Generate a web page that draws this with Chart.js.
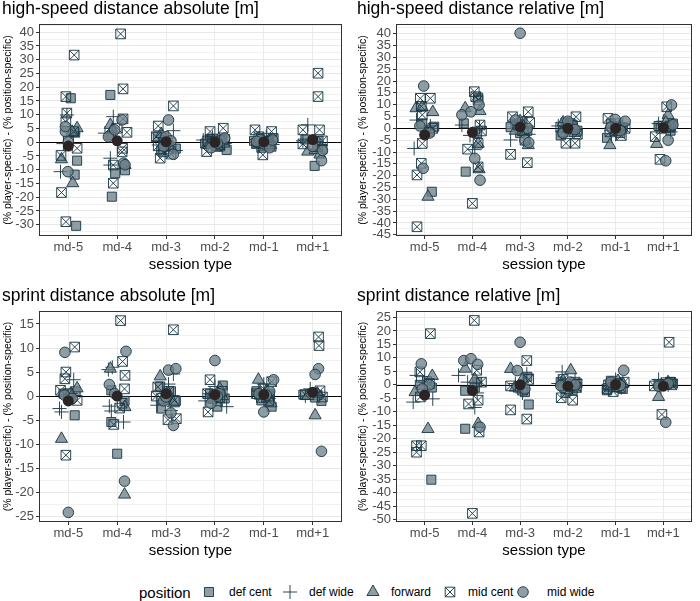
<!DOCTYPE html>
<html><head><meta charset="utf-8">
<script src="https://cdn.jsdelivr.net/npm/chart.js@4.4.1/dist/chart.umd.min.js"></script>
<style>
html,body{margin:0;padding:0;background:#fff;width:700px;height:601px;overflow:hidden;font-family:"Liberation Sans",Arial,Helvetica,sans-serif;}
canvas{position:absolute;}
.lg{position:absolute;white-space:nowrap;color:#000;line-height:1;}
</style></head><body>
<canvas id="c1" width="350" height="290" style="left:0;top:0"></canvas>
<canvas id="c2" width="350" height="290" style="left:350px;top:0"></canvas>
<canvas id="c3" width="350" height="289" style="left:0;top:287px"></canvas>
<canvas id="c4" width="350" height="289" style="left:350px;top:287px"></canvas>
<div id="legend"></div>
<script>
// ---------- DATA ----------
const sessions = ['md-5','md-4','md-3','md-2','md-1','md+1'];
const positions = ['def cent','def wide','forward','mid cent','mid wide'];
// each point: [session number (1-6), horizontal jitter, value]

// high-speed distance absolute
const hsAbsDefCent = [[1,0.05,16.0],[1,0.16,-30.4],[1,0.13,-11.8],[1,0.18,-6.7],[1,0.14,3.5],
  [2,-0.14,17.2],[2,-0.04,-11.3],[2,0.16,-10.2],[2,-0.11,-19.8],[2,-0.12,2.5],
  [3,-0.17,2.0],[3,0.2,-2.3],[3,0.05,-1.0],[3,-0.1,-3.0],[3,-0.05,0.8],
  [4,0.24,-2.8],[4,-0.1,1.2],[4,0.1,-1.5],[4,0.15,0.8],[4,-0.2,-0.5],[4,0.0,0.3],
  [5,-0.2,0.5],[5,0.1,-1.2],[5,0.2,1.5],[5,-0.05,-2.0],[5,-0.12,-0.3],[5,0.05,0.2],
  [6,0.04,-8.6],[6,0.2,-2.5],[6,-0.15,1.0],[6,0.12,0.5]];
const hsAbsDefWide = [[1,-0.03,9.9],[1,-0.16,-10.7],[1,0.1,3.3],[1,-0.1,-0.5],
  [2,-0.08,9.3],[2,-0.25,3.3],[2,-0.14,-5.8],[2,-0.14,-8.3],
  [3,0.15,4.2],[3,-0.15,-1.0],[3,0.05,1.5],[3,0.2,-3.0],
  [4,-0.24,0.8],[4,0.1,-1.0],[4,-0.05,1.8],[4,0.2,-0.5],[4,0.15,0.2],
  [5,-0.15,1.0],[5,0.18,-0.8],[5,0.05,2.0],[5,-0.1,-1.5],[5,0.1,0.5],
  [6,-0.1,6.3],[6,0.15,-1.0],[6,-0.2,0.5],[6,0.05,-3.0]];
const hsAbsForward = [[1,0.18,5.1],[1,0.08,3.8],[1,0.09,-14.9],[1,-0.14,-6.2],
  [2,-0.14,6.3],[2,-0.1,4.5],[2,0.16,-8.3],
  [3,-0.1,3.0],[3,0.1,-2.0],[3,0.0,1.0],
  [4,-0.12,-1.0],[4,0.08,1.0],[4,0.18,-0.5],
  [5,-0.1,1.5],[5,0.14,-1.0],[5,0.0,0.5],
  [6,-0.1,-3.4],[6,0.05,-2.8],[6,0.15,-4.5]];
const hsAbsMidCent = [[1,0.12,31.7],[1,-0.05,16.6],[1,-0.03,10.6],[1,-0.05,7.5],[1,0.11,3.9],[1,0.0,0.5],[1,0.18,-2.2],[1,-0.15,-4.8],[1,-0.14,-18.3],[1,-0.05,-28.9],
  [2,0.07,39.4],[2,0.12,19.4],[2,0.12,8.5],[2,0.2,3.6],[2,0.0,5.1],[2,0.11,-2.2],[2,-0.08,-8.3],[2,-0.08,-14.9],[2,0.1,-3.5],
  [3,0.15,13.2],[3,-0.16,5.9],[3,-0.16,-1.3],[3,-0.12,-5.8],[3,0.1,-4.3],[3,-0.2,2.0],[3,0.05,-2.5],[3,-0.05,-3.5],
  [4,-0.1,3.9],[4,0.17,5.1],[4,-0.17,-3.4],[4,0.05,-1.5],[4,0.2,1.0],[4,-0.15,0.5],[4,0.1,-0.8],[4,-0.05,1.2],
  [5,-0.18,4.5],[5,0.16,3.9],[5,-0.02,-4.6],[5,0.15,-1.5],[5,-0.15,-0.5],[5,0.05,1.5],[5,0.1,0.3],[5,-0.1,2.0],
  [6,0.11,25.1],[6,0.11,16.6],[6,-0.2,4.5],[6,0.14,4.5],[6,-0.2,-0.6],[6,0.1,-1.6],[6,0.2,0.5]];
const hsAbsMidWide = [[1,-0.06,3.9],[1,-0.06,5.7],[1,-0.01,-10.7],[1,0.0,0.0],
  [2,0.1,8.1],[2,-0.18,2.0],[2,-0.05,4.5],[2,0.13,-7.6],[2,0.16,-8.2],
  [3,0.05,8.1],[3,0.15,-4.4],[3,0.0,2.0],[3,-0.05,-1.5],[3,0.1,0.5],
  [4,0.0,-1.0],[4,0.12,0.5],[4,-0.08,-2.0],[4,0.2,1.5],[4,0.05,-0.3],
  [5,0.0,-0.5],[5,-0.08,1.0],[5,0.12,-2.0],[5,0.18,0.8],[5,-0.15,0.3],
  [6,0.18,-6.7],[6,0.0,-1.5],[6,0.2,-3.0]];
const hsAbsMean = [-1.4, 0.5, 0.2, 0.0, 0.1, 1.0];

// high-speed distance relative
const hsRelDefCent = [[1,0.15,-26.8],[1,-0.05,2.1],[1,0.2,0.7],[1,0.1,-1.5],
  [2,0.12,13.0],[2,-0.18,2.1],[2,-0.14,-18.3],[2,0.1,-2.0],
  [3,-0.1,2.0],[3,0.15,-1.0],[3,0.05,3.0],[3,-0.2,0.5],[3,0.0,-2.0],
  [4,-0.15,-3.0],[4,0.1,1.5],[4,0.2,-1.0],[4,-0.05,2.5],[4,0.05,-0.5],
  [5,-0.18,-4.0],[5,0.1,-2.0],[5,0.05,1.0],[5,-0.1,2.0],[5,0.15,0.5],
  [6,-0.1,1.0],[6,0.15,-1.0],[6,0.2,2.0],[6,0.05,0.3]];
const hsRelDefWide = [[1,-0.17,3.5],[1,-0.22,-8.5],[1,0.06,-2.0],[1,0.12,1.0],
  [2,-0.22,1.4],[2,0.05,-9.0],[2,-0.05,-3.0],[2,0.15,0.5],
  [3,-0.2,-4.9],[3,0.05,1.0],[3,0.18,-2.5],[3,-0.05,3.0],
  [4,-0.2,1.0],[4,0.1,-1.0],[4,0.0,2.0],
  [5,-0.1,-1.0],[5,0.15,1.5],[5,0.0,-2.5],
  [6,-0.1,2.0],[6,0.15,-1.5],[6,0.0,3.0]];
const hsRelForward = [[1,-0.18,8.5],[1,0.17,6.9],[1,-0.05,9.0],[1,0.07,-28.9],
  [2,-0.15,8.5],[2,0.16,7.3],[2,0.12,-6.5],[2,0.14,-17.3],
  [3,0.17,-7.1],[3,0.0,3.0],[3,-0.1,-1.0],
  [4,0.0,1.0],[4,0.15,-2.0],[4,-0.1,2.5],
  [5,-0.12,-7.1],[5,0.1,1.0],[5,0.0,-1.5],
  [6,0.1,5.6],[6,-0.14,-6.6],[6,0.05,2.5]];
const hsRelMidCent = [[1,-0.09,12.7],[1,0.12,12.7],[1,-0.07,9.3],[1,-0.05,5.7],[1,0.17,0.0],[1,-0.05,-6.4],[1,-0.07,-14.8],[1,-0.16,-19.7],[1,-0.16,-41.6],
  [2,0.04,15.5],[2,0.07,13.4],[2,0.12,12.0],[2,0.16,1.4],[2,0.19,-1.1],[2,-0.1,-8.8],[2,0.12,-6.3],[2,0.12,-16.3],[2,0.0,-31.7],
  [3,0.17,7.0],[3,-0.16,4.9],[3,-0.2,-11.0],[3,0.15,-14.5],[3,0.1,-5.0],[3,-0.05,1.5],[3,0.2,2.5],[3,0.05,-1.0],
  [4,0.17,4.9],[4,-0.04,-6.3],[4,0.15,-6.3],[4,-0.15,0.5],[4,0.05,2.0],[4,0.2,-2.5],[4,0.1,0.0],[4,-0.1,-1.5],
  [5,-0.16,4.2],[5,0.12,-3.0],[5,0.0,2.0],[5,0.2,0.0],[5,-0.12,-1.5],[5,0.05,-0.5],
  [6,0.07,9.1],[6,-0.17,-3.5],[6,-0.07,-13.1],[6,0.15,1.0],[6,-0.05,0.0],[6,0.12,0.5]];
const hsRelMidWide = [[1,-0.02,17.9],[1,-0.03,-16.9],[1,0.1,-2.0],[1,-0.1,1.0],
  [2,0.14,9.9],[2,-0.22,5.7],[2,-0.03,7.0],[2,0.05,-12.7],[2,0.16,-21.9],
  [3,0.0,40.2],[3,0.1,-5.0],[3,0.18,-6.0],[3,-0.1,3.5],[3,0.15,0.0],
  [4,0.1,1.0],[4,-0.1,-2.0],[4,0.0,3.0],[4,0.15,-0.5],
  [5,-0.01,3.8],[5,0.2,3.0],[5,0.1,-1.0],[5,-0.1,0.5],
  [6,0.17,9.9],[6,0.1,-5.0],[6,0.05,-13.7],[6,0.2,1.5]];
const hsRelMean = [-2.8, -1.7, 0.6, 0.0, 0.0, 0.3];

// sprint distance absolute
const spAbsDefCent = [[1,0.13,-4.0],[1,-0.1,0.5],[1,0.05,-0.5],[1,0.15,1.0],
  [2,-0.12,1.2],[2,-0.12,-5.4],[2,0.0,-12.0],[2,0.15,-1.0],
  [3,-0.12,2.0],[3,-0.1,-2.6],[3,0.1,1.0],[3,0.2,-1.0],[3,0.0,-0.3],
  [4,0.16,2.2],[4,0.05,-2.2],[4,-0.1,0.5],[4,0.2,-0.5],[4,-0.05,-0.6],
  [5,-0.05,-0.9],[5,0.16,-2.2],[5,0.1,0.5],[5,-0.15,1.0],[5,0.05,-0.3],[5,-0.1,0.3],
  [6,-0.19,0.3],[6,0.18,-1.0],[6,0.1,0.2],[6,0.05,-0.3]];
const spAbsDefWide = [[1,0.11,3.4],[1,-0.18,-2.6],[1,-0.14,-3.3],[1,0.05,0.5],
  [2,-0.18,5.5],[2,-0.1,6.0],[2,-0.16,-2.1],[2,-0.12,-3.1],[2,0.13,-5.4],
  [3,0.15,4.6],[3,-0.18,-1.9],[3,0.05,2.5],[3,0.1,-3.0],
  [4,-0.1,0.5],[4,0.24,-2.2],[4,0.0,2.0],[4,-0.2,-1.0],
  [5,-0.1,1.0],[5,0.1,-0.5],[5,0.0,2.5],
  [6,-0.05,1.5],[6,0.1,0.3],[6,-0.15,0.0]];
const spAbsForward = [[1,0.18,1.6],[1,-0.14,-8.9],[1,0.05,0.5],
  [2,-0.14,5.7],[2,0.16,-2.3],[2,0.15,-20.5],
  [3,-0.12,4.1],[3,0.05,0.5],[3,0.15,-1.5],
  [4,0.1,1.5],[4,-0.05,-0.5],[4,0.15,0.0],
  [5,-0.11,3.4],[5,0.05,1.0],[5,0.15,-1.5],
  [6,0.05,-4.0],[6,0.1,0.5],[6,-0.1,0.0]];
const spAbsMidCent = [[1,0.13,10.2],[1,-0.05,5.0],[1,-0.07,3.6],[1,-0.16,1.2],[1,0.18,-0.9],[1,-0.05,-12.3],[1,0.0,0.5],
  [2,0.07,15.7],[2,0.11,7.2],[2,0.16,4.3],[2,0.15,1.5],[2,-0.07,-5.9],[2,0.1,-1.5],[2,0.05,-2.5],
  [3,0.15,13.8],[3,-0.17,1.9],[3,-0.2,0.0],[3,0.17,-0.9],[3,0.04,-4.9],[3,0.21,-4.7],[3,0.05,1.0],[3,-0.1,-0.5],
  [4,-0.1,3.4],[4,-0.14,-3.3],[4,0.15,1.0],[4,0.05,-1.0],[4,-0.15,0.5],[4,0.1,-0.3],
  [5,0.16,3.0],[5,-0.15,0.5],[5,0.1,-1.0],[5,0.0,1.5],[5,-0.05,-0.3],[5,0.12,0.0],
  [6,0.12,12.3],[6,0.13,10.5],[6,0.15,1.1],[6,-0.15,0.3],[6,0.2,-0.2]];
const spAbsMidWide = [[1,-0.07,9.1],[1,0.0,-24.2],[1,-0.08,0.2],[1,0.08,-0.5],
  [2,0.18,9.3],[2,-0.16,2.4],[2,0.15,-17.7],[2,-0.05,0.5],
  [3,0.05,5.4],[3,0.2,5.7],[3,0.15,-6.1],[3,0.1,-3.5],[3,-0.05,-1.0],[3,0.0,-0.2],
  [4,0.0,7.4],[4,0.1,0.5],[4,-0.08,-1.5],[4,0.05,0.0],
  [5,0.2,3.4],[5,0.0,-3.3],[5,-0.1,0.5],[5,0.12,1.0],[5,0.05,0.2],
  [6,0.12,5.7],[6,0.05,4.5],[6,0.18,-11.5]];
const spAbsMean = [-1.0, 0.0, 0.5, 0.3, 0.3, 0.8];

// sprint distance relative
const spRelDefCent = [[1,0.14,-35.2],[1,0.05,1.4],[1,-0.1,0.0],[1,0.15,-1.0],
  [2,-0.15,-2.2],[2,-0.15,-16.3],[2,0.1,1.0],[2,0.05,-1.0],
  [3,0.18,-7.3],[3,0.1,-2.7],[3,0.15,3.0],[3,-0.05,-1.0],
  [4,-0.15,1.0],[4,0.1,-2.0],[4,0.2,0.5],[4,-0.05,-3.0],[4,0.05,-0.5],
  [5,-0.18,-2.0],[5,-0.1,1.5],[5,0.15,-1.5],[5,0.05,0.5],[5,0.0,-0.8],
  [6,0.15,1.0],[6,0.05,0.0],[6,0.2,0.5],[6,-0.1,0.2]];
const spRelDefWide = [[1,-0.17,3.5],[1,0.17,-5.2],[1,-0.24,-6.4],[1,0.0,1.0],
  [2,-0.29,3.5],[2,0.05,-8.4],[2,-0.1,1.0],[2,0.1,-3.0],
  [3,0.14,4.0],[3,-0.1,0.5],[3,0.05,-3.0],
  [4,-0.12,4.8],[4,0.1,-1.0],[4,-0.2,0.5],[4,0.15,2.0],
  [5,-0.1,0.5],[5,0.12,-1.0],[5,0.0,2.0],
  [6,-0.1,2.0],[6,0.1,0.0],[6,-0.05,-1.0]];
const spRelForward = [[1,0.16,3.3],[1,-0.2,-2.7],[1,0.07,-16.4],
  [2,-0.15,6.0],[2,0.12,-14.5],[2,0.05,2.0],
  [3,-0.2,5.9],[3,0.05,2.0],[3,-0.1,-1.0],
  [4,0.06,5.4],[4,-0.1,1.5],[4,0.15,-1.0],
  [5,0.05,1.5],[5,-0.12,-1.0],[5,0.15,0.5],
  [6,-0.1,-4.5],[6,0.1,1.0],[6,0.05,0.0]];
const spRelMidCent = [[1,0.12,19.0],[1,-0.1,4.8],[1,-0.09,-4.5],[1,0.1,0.5],[1,-0.17,-25.0],[1,-0.07,-22.6],[1,-0.17,-22.6],
  [2,0.04,23.9],[2,0.09,5.4],[2,0.19,1.0],[2,-0.08,-7.1],[2,0.12,-5.7],[2,0.14,-17.5],[2,0.0,-47.7],
  [3,0.14,9.0],[3,-0.2,-0.4],[3,-0.2,-9.3],[3,0.14,-12.7],[3,0.18,2.0],[3,0.05,-2.0],
  [4,-0.14,-4.8],[4,0.1,-5.7],[4,-0.1,2.0],[4,0.15,1.0],[4,0.0,-1.5],[4,-0.05,0.3],[4,0.18,-1.0],
  [5,-0.15,0.0],[5,0.1,-1.0],[5,0.18,1.0],[5,-0.05,-2.5],[5,0.05,0.5],[5,-0.18,-1.5],
  [6,0.12,15.8],[6,-0.19,-0.4],[6,-0.03,-11.0],[6,0.15,1.0],[6,0.18,0.0],[6,0.05,0.8]];
const spRelMidWide = [[1,-0.07,7.8],[1,0.1,0.0],[1,-0.05,-1.5],
  [2,-0.18,9.0],[2,-0.03,9.7],[2,0.11,7.6],[2,0.16,-15.7],
  [3,0.0,15.8],[3,-0.06,5.3],[3,0.1,-1.5],
  [4,0.05,1.0],[4,-0.1,-1.0],[4,0.15,0.0],[4,-0.15,-0.3],
  [5,0.17,5.4],[5,0.05,-0.5],[5,-0.1,1.0],[5,0.1,-0.2],
  [6,0.05,-13.9],[6,0.1,0.5],[6,-0.1,-0.5]];
const spRelMean = [-3.8, -2.1, 0.0, -0.5, 0.1, -0.5];

// ---------- RENDERING ----------
Chart.defaults.font.family = '"Liberation Sans", Arial, Helvetica, sans-serif';
const FILL = 'rgba(112,130,139,0.78)';
const EDGE = 'rgba(26,56,68,0.92)';
const MEAN = '#2b2424';

function pts(a){ return a.map(p => ({x: p[0] + p[1], y: p[2]})); }
function meanPts(a){ return a.map((v,i) => ({x: i + 1, y: v})); }
function isMajor(v){ return Math.abs(v/5 - Math.round(v/5)) < 1e-6; }

const decor = {
  id: 'decor',
  beforeDatasetsDraw(chart){
    const {ctx, chartArea: a, scales: {y}} = chart;
    const py = Math.round(y.getPixelForValue(0)) + 0.5;
    ctx.save(); ctx.strokeStyle = '#000'; ctx.lineWidth = 1.2;
    ctx.beginPath(); ctx.moveTo(a.left, py); ctx.lineTo(a.right, py); ctx.stroke();
    ctx.restore();
  },
  afterDraw(chart){
    const {ctx, chartArea: a} = chart;
    ctx.save(); ctx.strokeStyle = '#333'; ctx.lineWidth = 1;
    ctx.strokeRect(Math.round(a.left) + 0.5, Math.round(a.top) + 0.5,
                   Math.round(a.right - a.left) - 1, Math.round(a.bottom - a.top) - 1);
    ctx.restore();
  }
};

const STY = {
  defCent: {pointStyle:'rect', pointRadius:6.4, backgroundColor:FILL, borderColor:EDGE, borderWidth:1},
  defWide: {pointStyle:'cross', pointRadius:7, backgroundColor:EDGE, borderColor:EDGE, borderWidth:1},
  forward: {pointStyle:'triangle', pointRadius:7, backgroundColor:FILL, borderColor:EDGE, borderWidth:1},
  midCentBox: {pointStyle:'rect', pointRadius:6.8, backgroundColor:'rgba(0,0,0,0)', borderColor:EDGE, borderWidth:1},
  midCentX: {pointStyle:'crossRot', pointRadius:6.8, backgroundColor:'rgba(0,0,0,0)', borderColor:EDGE, borderWidth:1},
  midWide: {pointStyle:'circle', pointRadius:5.3, backgroundColor:FILL, borderColor:EDGE, borderWidth:1},
  mean: {pointStyle:'circle', pointRadius:5.5, backgroundColor:MEAN, borderColor:MEAN, borderWidth:0}
};

function makeChart(id, title, ymin, ymax, padL, padR, yW, d){
  const ds = [
    Object.assign({label:'mean', data: meanPts(d.mean)}, STY.mean),
    Object.assign({label:'mid wide', data: pts(d.midWide)}, STY.midWide),
    Object.assign({label:'mid cent x', data: pts(d.midCent)}, STY.midCentX),
    Object.assign({label:'mid cent', data: pts(d.midCent)}, STY.midCentBox),
    Object.assign({label:'forward', data: pts(d.forward)}, STY.forward),
    Object.assign({label:'def wide', data: pts(d.defWide)}, STY.defWide),
    Object.assign({label:'def cent', data: pts(d.defCent)}, STY.defCent)
  ];
  return new Chart(document.getElementById(id), {
    type: 'scatter',
    data: {datasets: ds},
    plugins: [decor],
    options: {
      responsive: false, animation: false, devicePixelRatio: 1, events: [],
      layout: {padding: {left: padL, right: padR, top: 0, bottom: 0}},
      plugins: {
        legend: {display: false}, tooltip: {enabled: false},
        title: {display: true, text: title, align: 'start', color: '#000',
                font: {size: 17.5, weight: 'normal', lineHeight: 1}, padding: {top: 0.5, bottom: 6}}
      },
      scales: {
        x: {
          type: 'linear', min: 0.4, max: 6.6,
          afterBuildTicks: s => { s.ticks = sessions.map((_, i) => ({value: i + 1})); },
          afterFit: s => { s.height = 54; },
          ticks: {autoSkip: false, maxRotation: 0, padding: 1, color: '#4d4d4d', font: {size: 13},
                  callback: v => sessions[Math.round(v) - 1] || ''},
          grid: {color: '#ebebeb', lineWidth: 1, tickLength: 3, tickColor: '#333', drawTicks: true},
          border: {display: false},
          title: {display: true, text: 'session type', color: '#000', font: {size: 15}, padding: {top: 0, bottom: 16}}
        },
        y: {
          type: 'linear', min: ymin, max: ymax,
          afterBuildTicks: s => {
            const t = [];
            for (let v = Math.ceil(ymin / 2.5) * 2.5; v <= ymax + 1e-9; v += 2.5) t.push({value: Math.round(v * 10) / 10});
            s.ticks = t;
          },
          afterFit: s => { s.width = yW; },
          ticks: {autoSkip: false, padding: 2, color: '#4d4d4d', font: {size: 13},
                  callback: v => isMajor(v) ? String(Math.round(v)) : ''},
          grid: {
            color: c => (c.tick && isMajor(c.tick.value)) ? '#e8e8e8' : '#eeeeee',
            lineWidth: c => (c.tick && isMajor(c.tick.value)) ? 1 : 0.8,
            tickLength: 3,
            tickColor: c => (c.tick && isMajor(c.tick.value)) ? '#333' : 'rgba(0,0,0,0)',
            drawTicks: true
          },
          border: {display: false},
          title: {display: true, text: '(% player-specific) - (% position-specific)', color: '#000',
                  font: {size: 10.5, lineHeight: 1.2}, padding: {top: 0, bottom: 0}}
        }
      }
    }
  });
}

makeChart('c1', 'high-speed distance absolute [m]', -34.1, 43.0, 2, 8, 37,
  {defCent: hsAbsDefCent, defWide: hsAbsDefWide, forward: hsAbsForward, midCent: hsAbsMidCent, midWide: hsAbsMidWide, mean: hsAbsMean});
makeChart('c2', 'high-speed distance relative [m]', -45.5, 44.1, 7, 2, 39,
  {defCent: hsRelDefCent, defWide: hsRelDefWide, forward: hsRelForward, midCent: hsRelMidCent, midWide: hsRelMidWide, mean: hsRelMean});
makeChart('c3', 'sprint distance absolute [m]', -26.2, 17.7, 2, 8, 37,
  {defCent: spAbsDefCent, defWide: spAbsDefWide, forward: spAbsForward, midCent: spAbsMidCent, midWide: spAbsMidWide, mean: spAbsMean});
makeChart('c4', 'sprint distance relative [m]', -50.9, 27.4, 7, 2, 39,
  {defCent: spRelDefCent, defWide: spRelDefWide, forward: spRelForward, midCent: spRelMidCent, midWide: spRelMidWide, mean: spRelMean});

// ---------- LEGEND ----------
(function(){
  const L = document.getElementById('legend');
  const cy = 592;
  function text(t, left, size){
    const d = document.createElement('div');
    d.className = 'lg'; d.textContent = t;
    d.style.left = left + 'px'; d.style.top = (cy - size / 2) + 'px'; d.style.fontSize = size + 'px';
    L.appendChild(d);
  }
  function icon(cx, styles){
    const c = document.createElement('canvas');
    c.width = 22; c.height = 22; c.style.left = (cx - 11) + 'px'; c.style.top = (cy - 11) + 'px';
    L.appendChild(c);
    const ctx = c.getContext('2d');
    styles.forEach(s => {
      ctx.save();
      ctx.fillStyle = s.backgroundColor; ctx.strokeStyle = s.borderColor; ctx.lineWidth = s.borderWidth;
      Chart.helpers.drawPoint(ctx, {pointStyle: s.pointStyle, radius: s.pointRadius, rotation: 0, borderWidth: s.borderWidth}, 11, 11);
      ctx.restore();
    });
  }
  text('position', 139, 15);
  const items = [
    [209, [STY.defCent], 229],
    [290, [STY.defWide], 309],
    [373, [STY.forward], 391],
    [450, [STY.midCentBox, STY.midCentX], 468],
    [523, [STY.midWide], 547]
  ];
  items.forEach((it, i) => { icon(it[0], it[1]); text(positions[i], it[2], 12); });
})();
</script>
</body></html>
